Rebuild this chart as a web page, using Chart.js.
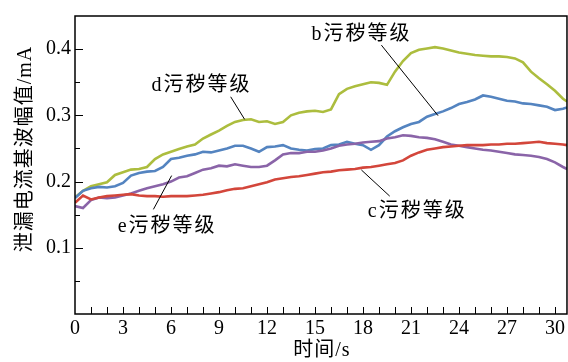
<!DOCTYPE html>
<html>
<head>
<meta charset="utf-8">
<script src="https://cdn.jsdelivr.net/npm/chart.js@4"></script>
<style>
  html, body { margin: 0; padding: 0; background: #fff; }
  #wrap { width: 568px; height: 362px; }
</style>
</head>
<body>
<div id="wrap"><canvas id="mainChart" width="568" height="362"></canvas></div>
<script>
// time axis (s)
const times = [0, 0.5, 1, 1.5, 2, 2.5, 3, 3.5, 4, 4.5, 5, 5.5, 6, 6.5, 7, 7.5, 8, 8.5, 9, 9.5,
  10, 10.5, 11, 11.5, 12, 12.5, 13, 13.5, 14, 14.5, 15, 15.5, 16, 16.5, 17, 17.5, 18, 18.5, 19, 19.5,
  20, 20.5, 21, 21.5, 22, 22.5, 23, 23.5, 24, 24.5, 25, 25.5, 26, 26.5, 27, 27.5, 28, 28.5, 29, 29.5,
  30, 30.5, 30.75];

// d污秽等级
const seriesD = [0.176, 0.186, 0.193, 0.196, 0.199, 0.210, 0.214, 0.218, 0.219, 0.222,
  0.234, 0.241, 0.245, 0.249, 0.253, 0.256, 0.265, 0.271, 0.277, 0.284,
  0.290, 0.293, 0.294, 0.290, 0.291, 0.287, 0.290, 0.300, 0.304, 0.306,
  0.307, 0.305, 0.309, 0.332, 0.340, 0.344, 0.347, 0.350, 0.349, 0.346,
  0.366, 0.382, 0.394, 0.399, 0.401, 0.403, 0.401, 0.398, 0.395, 0.393,
  0.391, 0.390, 0.389, 0.389, 0.388, 0.386, 0.380, 0.366, 0.356, 0.347,
  0.337, 0.325, 0.321];

// b污秽等级
const seriesB = [0.175, 0.186, 0.190, 0.192, 0.191, 0.193, 0.198, 0.209, 0.213, 0.215,
  0.216, 0.222, 0.234, 0.236, 0.239, 0.241, 0.245, 0.244, 0.247, 0.250,
  0.254, 0.254, 0.250, 0.245, 0.252, 0.253, 0.255, 0.250, 0.248, 0.247,
  0.249, 0.250, 0.255, 0.256, 0.260, 0.257, 0.255, 0.248, 0.255, 0.268,
  0.276, 0.282, 0.287, 0.290, 0.298, 0.302, 0.306, 0.311, 0.317, 0.320,
  0.324, 0.330, 0.328, 0.325, 0.322, 0.321, 0.318, 0.317, 0.315, 0.313,
  0.308, 0.310, 0.312];

// c污秽等级
const seriesC = [0.168, 0.179, 0.173, 0.176, 0.178, 0.179, 0.180, 0.181, 0.179, 0.178,
  0.178, 0.177, 0.178, 0.178, 0.178, 0.179, 0.180, 0.182, 0.184, 0.187,
  0.189, 0.190, 0.193, 0.196, 0.199, 0.203, 0.205, 0.207, 0.208, 0.210,
  0.212, 0.214, 0.215, 0.217, 0.218, 0.219, 0.221, 0.222, 0.224, 0.226,
  0.228, 0.232, 0.239, 0.244, 0.248, 0.250, 0.252, 0.253, 0.254, 0.255,
  0.255, 0.255, 0.256, 0.256, 0.257, 0.257, 0.258, 0.259, 0.260, 0.258,
  0.257, 0.256, 0.255];

// e污秽等级
const seriesE = [0.163, 0.160, 0.172, 0.176, 0.175, 0.176, 0.179, 0.182, 0.186, 0.190,
  0.193, 0.196, 0.200, 0.206, 0.208, 0.213, 0.218, 0.220, 0.224, 0.223,
  0.226, 0.224, 0.222, 0.222, 0.224, 0.232, 0.241, 0.243, 0.243, 0.245,
  0.245, 0.247, 0.250, 0.254, 0.256, 0.257, 0.259, 0.260, 0.261, 0.265,
  0.267, 0.270, 0.269, 0.267, 0.266, 0.264, 0.260, 0.256, 0.254, 0.252,
  0.250, 0.248, 0.247, 0.245, 0.243, 0.241, 0.240, 0.239, 0.237, 0.234,
  0.229, 0.222, 0.219];

const xTicks = [0, 1, 2, 3, 4, 5, 6, 7, 8, 9, 10, 11, 12, 13, 14, 15, 16, 17, 18, 19, 20,
  21, 22, 23, 24, 25, 26, 27, 28, 29, 30];
const xLabelTicks = [0, 3, 6, 9, 12, 15, 18, 21, 24, 27, 30];
const yTicks = [0, 0.05, 0.1, 0.15, 0.2, 0.25, 0.3, 0.35, 0.4];
const yLabelTicks = [0.1, 0.2, 0.3, 0.4];

// callouts, in data units
const callouts = [
  { text: 'd污秽等级', x: 4.78, y: 0.345, line: [9.73, 0.328, 10.6, 0.294] },
  { text: 'b污秽等级', x: 14.78, y: 0.422, line: [19.15, 0.406, 22.69, 0.2995] },
  { text: 'c污秽等级', x: 18.3, y: 0.154, line: [17.9, 0.2175, 19.67, 0.178] },
  { text: 'e污秽等级', x: 2.67, y: 0.131, line: [4.9, 0.158, 6.04, 0.209] }
];

const FONT = '"Liberation Serif", "Times New Roman", "Noto Sans CJK SC", serif';

function toPoints(vals) {
  return times.map((t, i) => ({ x: t, y: vals[i] }));
}

const framePlugin = {
  id: 'frame',
  afterDraw(chart) {
    const ctx = chart.ctx;
    const a = chart.chartArea;
    const xs = chart.scales.x, ys = chart.scales.y;
    ctx.save();
    ctx.strokeStyle = '#000';
    ctx.lineWidth = 1.5;
    ctx.strokeRect(a.left, a.top, a.right - a.left, a.bottom - a.top);

    // inward ticks
    ctx.lineWidth = 1;
    ctx.beginPath();
    xTicks.forEach(v => {
      if (v === 0) return;
      const px = Math.round(xs.getPixelForValue(v)) + 0.5;
      ctx.moveTo(px, a.bottom);
      ctx.lineTo(px, a.bottom - 7);
    });
    yTicks.forEach((v, k) => {
      if (v === 0) return;
      const py = Math.round(ys.getPixelForValue(v)) + 0.5;
      const len = k % 2 === 0 ? 8 : 5;
      ctx.moveTo(a.left, py);
      ctx.lineTo(a.left + len, py);
    });
    ctx.stroke();

    // callouts
    ctx.fillStyle = '#000';
    ctx.font = '20px ' + FONT;
    ctx.textAlign = 'left';
    ctx.textBaseline = 'middle';
    ctx.letterSpacing = '2px';
    callouts.forEach(c => {
      ctx.fillText(c.text, xs.getPixelForValue(c.x), ys.getPixelForValue(c.y));
      ctx.beginPath();
      ctx.moveTo(xs.getPixelForValue(c.line[0]), ys.getPixelForValue(c.line[1]));
      ctx.lineTo(xs.getPixelForValue(c.line[2]), ys.getPixelForValue(c.line[3]));
      ctx.stroke();
    });

    // axis titles
    ctx.letterSpacing = '1px';
    ctx.textAlign = 'center';
    ctx.fillText('时间/s', (a.left + a.right) / 2 + 1, 351);
    ctx.translate(26, 149);
    ctx.rotate(-Math.PI / 2);
    ctx.fillText('泄漏电流基波幅值/mA', 0, 0);
    ctx.restore();
  }
};

function renderChart() {
  const ctx = document.getElementById('mainChart').getContext('2d');
  const mk = (vals, color) => ({
    data: toPoints(vals),
    borderColor: color,
    borderWidth: 2.6,
    pointRadius: 0,
    tension: 0,
    fill: false
  });
  new Chart(ctx, {
    type: 'line',
    data: {
      datasets: [
        mk(seriesC, '#d3463b'),
        mk(seriesE, '#8a64a8'),
        mk(seriesB, '#5484c0'),
        mk(seriesD, '#acbd3e')
      ]
    },
    options: {
      responsive: false,
      animation: false,
      layout: { padding: { left: 0, right: 1, top: 12, bottom: 0 } },
      plugins: { legend: { display: false }, tooltip: { enabled: false } },
      scales: {
        x: {
          type: 'linear',
          min: 0,
          max: 30.75,
          grid: { display: false, drawTicks: false },
          border: { display: false },
          afterFit: s => { s.height = 48; },
          afterBuildTicks: s => { s.ticks = xTicks.map(v => ({ value: v })); },
          ticks: {
            autoSkip: false,
            maxRotation: 0,
            padding: 3,
            color: '#000',
            font: { family: FONT, size: 20 },
            callback: v => xLabelTicks.includes(v) ? String(v) : ''
          }
        },
        y: {
          min: 0,
          max: 0.45,
          grid: { display: false, drawTicks: false },
          border: { display: false },
          afterFit: s => { s.width = 75; },
          afterBuildTicks: s => { s.ticks = yTicks.map(v => ({ value: v })); },
          ticks: {
            autoSkip: false,
            padding: 4,
            color: '#000',
            font: { family: FONT, size: 20 },
            callback: v => yLabelTicks.includes(v) ? v.toFixed(1) : ''
          }
        }
      }
    },
    plugins: [framePlugin]
  });
}

document.addEventListener('DOMContentLoaded', renderChart);
</script>
</body>
</html>
